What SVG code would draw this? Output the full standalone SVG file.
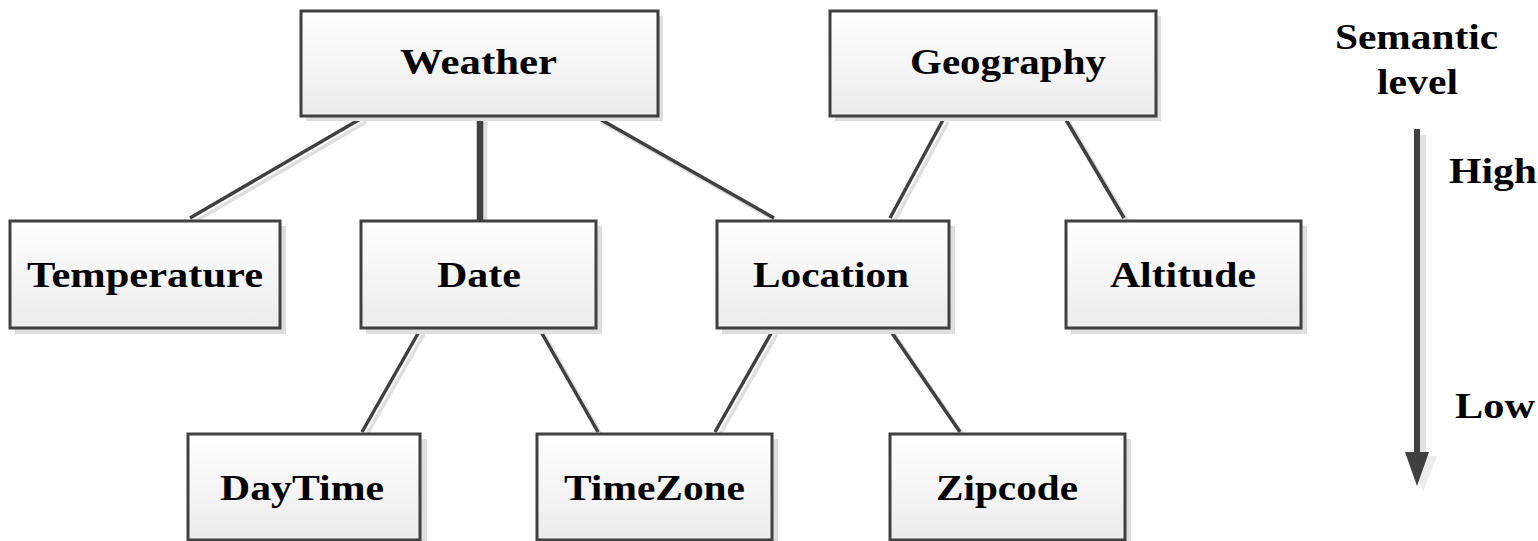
<svg xmlns="http://www.w3.org/2000/svg" width="1538" height="541" viewBox="0 0 1538 541">
<defs>
<linearGradient id="g" x1="0" y1="0" x2="0" y2="1">
<stop offset="0" stop-color="#ffffff"/>
<stop offset="1" stop-color="#ececec"/>
</linearGradient>
</defs>
<style>
.sh{fill:#dedede}
.bx{fill:url(#g);stroke:#404040;stroke-width:3}
.t{font-weight:bold;font-size:36px;fill:#000}
.c{stroke:#404040;stroke-width:3.5;fill:none}
.cs{stroke:#dedede;stroke-width:3.5;fill:none}
</style>
<rect width="1538" height="541" fill="#fff"/>
<g id="connectors">
<g transform="translate(4,4)">
<line class="cs" x1="362" y1="118" x2="190" y2="218"/>
<line class="cs" x1="598" y1="118" x2="774" y2="218"/>
<line class="cs" x1="944" y1="118" x2="890" y2="218"/>
<line class="cs" x1="1065" y1="118" x2="1124" y2="218"/>
<line class="cs" x1="420" y1="330" x2="362" y2="432"/>
<line class="cs" x1="540" y1="330" x2="598" y2="432"/>
<line class="cs" x1="773" y1="330" x2="715" y2="432"/>
<line class="cs" x1="890" y1="330" x2="960" y2="432"/>
<line class="cs" x1="480" y1="118" x2="480" y2="222" style="stroke-width:6.5"/>
</g>
<line class="c" x1="362" y1="118" x2="190" y2="218"/>
<line class="c" x1="480" y1="118" x2="480" y2="222" style="stroke-width:6.5"/>
<line class="c" x1="598" y1="118" x2="774" y2="218"/>
<line class="c" x1="944" y1="118" x2="890" y2="218"/>
<line class="c" x1="1065" y1="118" x2="1124" y2="218"/>
<line class="c" x1="420" y1="330" x2="362" y2="432"/>
<line class="c" x1="540" y1="330" x2="598" y2="432"/>
<line class="c" x1="773" y1="330" x2="715" y2="432"/>
<line class="c" x1="890" y1="330" x2="960" y2="432"/>
</g>
<g id="weather"><rect class="sh" x="306" y="16" width="357" height="105"/><rect class="bx" x="301" y="11" width="357" height="105"/><text class="t" font-family="Liberation Serif, serif" x="400" y="74" textLength="157" lengthAdjust="spacingAndGlyphs">Weather</text></g>
<g id="geography"><rect class="sh" x="835" y="16" width="326" height="105"/><rect class="bx" x="830" y="11" width="326" height="105"/><text class="t" font-family="Liberation Serif, serif" x="910" y="74" textLength="196" lengthAdjust="spacingAndGlyphs">Geography</text></g>
<g id="temperature"><rect class="sh" x="15" y="226" width="271" height="108"/><rect class="bx" x="10" y="221" width="270" height="107"/><text class="t" font-family="Liberation Serif, serif" x="27" y="287" textLength="236" lengthAdjust="spacingAndGlyphs">Temperature</text></g>
<g id="date"><rect class="sh" x="366" y="226" width="236" height="108"/><rect class="bx" x="361" y="221" width="235" height="107"/><text class="t" font-family="Liberation Serif, serif" x="437" y="287" textLength="84" lengthAdjust="spacingAndGlyphs">Date</text></g>
<g id="location"><rect class="sh" x="722" y="226" width="233" height="108"/><rect class="bx" x="717" y="221" width="232" height="107"/><text class="t" font-family="Liberation Serif, serif" x="753" y="287" textLength="156" lengthAdjust="spacingAndGlyphs">Location</text></g>
<g id="altitude"><rect class="sh" x="1071" y="226" width="236" height="108"/><rect class="bx" x="1066" y="221" width="235" height="107"/><text class="t" font-family="Liberation Serif, serif" x="1110" y="287" textLength="146" lengthAdjust="spacingAndGlyphs">Altitude</text></g>
<g id="daytime"><rect class="sh" x="193" y="439" width="234" height="108"/><rect class="bx" x="188" y="434" width="232" height="106"/><text class="t" font-family="Liberation Serif, serif" x="220" y="500" textLength="164" lengthAdjust="spacingAndGlyphs">DayTime</text></g>
<g id="timezone"><rect class="sh" x="542" y="439" width="236" height="108"/><rect class="bx" x="537" y="434" width="235" height="106"/><text class="t" font-family="Liberation Serif, serif" x="564" y="500" textLength="181" lengthAdjust="spacingAndGlyphs">TimeZone</text></g>
<g id="zipcode"><rect class="sh" x="895" y="439" width="236" height="108"/><rect class="bx" x="890" y="434" width="235" height="106"/><text class="t" font-family="Liberation Serif, serif" x="936" y="500" textLength="142" lengthAdjust="spacingAndGlyphs">Zipcode</text></g>
<g id="legend">
<rect x="1420" y="135" width="6" height="318" fill="#e2e2e2"/>
<polygon points="1410,456 1437,456 1423,492" fill="#ececec"/>
<rect x="1414" y="129" width="6" height="324" fill="#404040"/>
<polygon points="1405,452 1429,452 1417,486" fill="#404040"/>
<text class="t" font-family="Liberation Serif, serif" x="1335" y="49" textLength="163" lengthAdjust="spacingAndGlyphs">Semantic</text>
<text class="t" font-family="Liberation Serif, serif" x="1377" y="94" textLength="81" lengthAdjust="spacingAndGlyphs">level</text>
<text class="t" font-family="Liberation Serif, serif" x="1449" y="183" textLength="88" lengthAdjust="spacingAndGlyphs">High</text>
<text class="t" font-family="Liberation Serif, serif" x="1455" y="418" textLength="80" lengthAdjust="spacingAndGlyphs">Low</text>
</g>
</svg>
